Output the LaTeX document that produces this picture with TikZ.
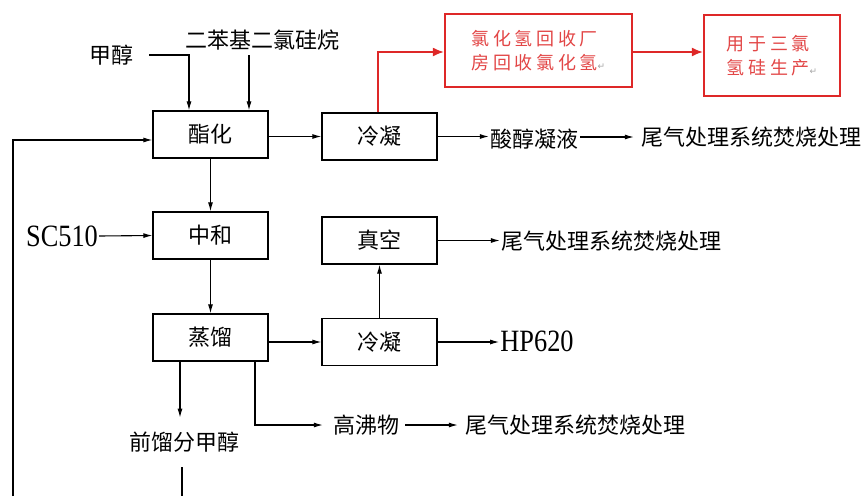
\documentclass[tikz,border=0pt]{standalone}
\usepackage{fontspec}
\newfontfamily\cjk{Noto Sans CJK SC}
\newfontfamily\cjkred[LetterSpace=20]{Noto Sans CJK SC}
\newfontfamily\latinf[FakeStretch=0.85]{Liberation Serif}
\newfontfamily\symf{DejaVu Sans}
\usetikzlibrary{arrows.meta}
\definecolor{rline}{RGB}{222,40,40}
\definecolor{rtext}{RGB}{226,70,70}
\tikzset{
  box/.style={draw, line width=1.2pt, minimum width=115pt, minimum height=47pt, inner sep=0pt, font=\cjk\fontsize{22}{24}\selectfont},
  lbl/.style={inner sep=1pt, font=\cjk\fontsize{22}{24}\selectfont},
  lat/.style={inner sep=1pt, font=\latinf\fontsize{31}{33}\selectfont},
  arr/.style={line width=1.1pt, -{Latex[length=9pt,width=5pt]}},
  ln/.style={line width=1.1pt},
  rbox/.style={draw=rline, line width=2.4pt, inner sep=0pt, text=rtext, align=left, font=\cjkred\fontsize{18}{23.5}\selectfont},
  rarr/.style={draw=rline, line width=1.4pt, -{Latex[length=11pt,width=9pt]}},
}
\newcommand{\retm}{{\symf\fontsize{9}{9}\selectfont\textcolor{gray!70}{↵}}}
\begin{document}
\begin{tikzpicture}[x=1pt,y=-1pt]
\useasboundingbox (0,0) rectangle (866,496);
% boxes
\node[box] (ester) at (210.5,134.5) {酯化};
\node[box] (cond1) at (379.5,136.5) {冷凝};
\node[box] (neut)  at (210.5,235.5) {中和};
\node[box] (vac)   at (379.5,240.5) {真空};
\node[box] (dist)  at (210.5,337.5) {蒸馏};
\node[box] (cond2) at (379.5,342) {冷凝};
\node[rbox, minimum width=187pt, minimum height=73pt] (hcl) at (538.5,50.5) {氯化氢回收厂\\房回收氯化氢\retm};
\node[rbox, minimum width=136pt, minimum height=81pt] (tsh) at (772,55.5) {用于三氯\\氢硅生产\retm};
% labels
\node[lbl] (meoh) at (111,55) {甲醇};
\node[lbl] (dpd) at (262,40) {二苯基二氯硅烷};
\node[lbl] (acid) at (534,139) {酸醇凝液};
\node[lbl] (tail1) at (751,137) {尾气处理系统焚烧处理};
\node[lat] (sc) at (62,236) {SC510};
\node[lbl] (tail2) at (611,241) {尾气处理系统焚烧处理};
\node[lat] (hp) at (537,341) {HP620};
\node[lbl] (front) at (184,442) {前馏分甲醇};
\node[lbl] (hb) at (366,425) {高沸物};
\node[lbl] (tail3) at (575,425) {尾气处理系统焚烧处理};
% coordinates
\coordinate (inA) at ([xshift=-21.5pt]ester.north);
\coordinate (inB) at ([xshift=38.5pt]ester.north);
\coordinate (fbtop) at ([yshift=-5.5pt]ester.west);
\coordinate (fbbot) at (13,496);
\coordinate (dl) at ([xshift=-30.5pt]dist.south);
\coordinate (dr) at ([xshift=44.5pt]dist.south);
\coordinate (fbot) at (182,496);
\coordinate (rup) at ([xshift=-1.5pt]cond1.north);
% connectors
\draw[arr] ([xshift=15pt]meoh.east) -| (inA);
\draw[arr] (inB |- dpd.south) ++(0,4) -- (inB);
\draw[arr] (fbbot) |- (fbtop);
\draw[arr] (ester.east |- cond1.west) -- (cond1.west);
\draw[arr] (cond1.east) -- (acid.west |- cond1.east);
\draw[arr] (acid.east |- tail1.west) ++(1,0) -- ([xshift=-6pt]tail1.west);
\draw[arr] (ester.south) -- (neut.north);
\draw[arr] (sc.east) -- (neut.west);
\draw[arr] (neut.south) -- (dist.north);
\draw[arr] (cond2.west -| dist.east) -- (cond2.west);
\draw[arr] (cond2.north) -- (vac.south);
\draw[arr] (vac.east) -- (tail2.west |- vac.east);
\draw[arr] (cond2.east) -- (hp.west |- cond2.east);
\draw[arr] (dl) -- ([yshift=13pt]dl |- front.north);
\draw[ln] (fbot |- front.south) ++(0,14) -- (fbot);
\draw[arr] (dr) |- ([xshift=-9pt]hb.west);
\draw[arr] ([xshift=5pt]hb.east) -- ([xshift=-6pt]tail3.west);
\draw[rarr] (rup) |- (hcl.west |- 0,52);
\draw[rarr] (hcl.east |- 0,52) -- (tsh.west |- 0,52);
\end{tikzpicture}
\end{document}
